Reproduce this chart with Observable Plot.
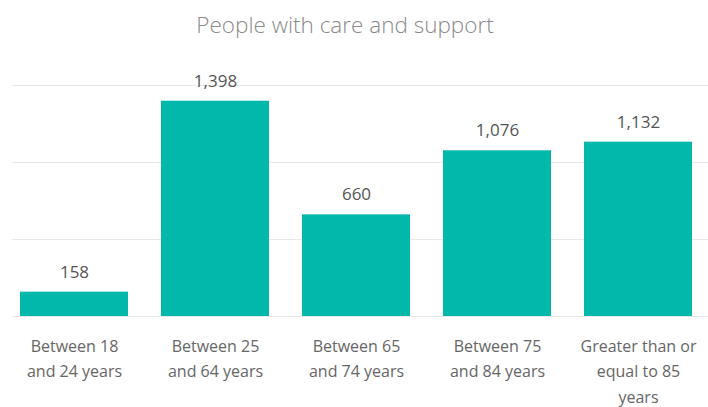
<!DOCTYPE html>
<html>
<head>
<meta charset="utf-8">
<script src="https://cdn.jsdelivr.net/npm/d3@7"></script>
<script src="https://cdn.jsdelivr.net/npm/@observablehq/plot@0.6"></script>
<style>
  html, body { margin: 0; padding: 0; background: #fff; }
  #title { height: 50px; line-height: 50px; text-align: center; font-family: "Segoe UI", "Open Sans", sans-serif; font-size: 22.5px; font-weight: 300; color: #8a8a8a; width: 690px; }
</style>
</head>
<body>
<div id="title">People with care and support</div>
<div id="chart"></div>
<script>
const categories = ["18-24", "25-64", "65-74", "75-84", "85+"];
const tickLabels = ["Between 18\nand 24 years", "Between 25\nand 64 years", "Between 65\nand 74 years", "Between 75\nand 84 years", "Greater than or\nequal to 85\nyears"];
const values = [158, 1398, 660, 1076, 1132];
const gridTicks = [0, 500, 1000, 1500];

const data = categories.map((c, i) => ({cat: c, value: values[i]}));
const labelOf = Object.fromEntries(categories.map((c, i) => [c, tickLabels[i]]));

const chart = Plot.plot({
  width: 708,
  height: 357,
  marginTop: 35,
  marginBottom: 91,
  marginLeft: 12,
  marginRight: 0,
  style: {fontFamily: "'Segoe UI', 'Open Sans', sans-serif", background: "#fff"},
  x: {domain: categories, paddingInner: 0.234, paddingOuter: 0.085, align: 0.333, label: null},
  y: {domain: [0, 1500], axis: null},
  marks: [
    Plot.ruleY(gridTicks, {stroke: "#e8e8e8", strokeWidth: 1}),
    Plot.barY(data, {x: "cat", y: "value", fill: "#01B8AA"}),
    Plot.text(data, {x: "cat", y: "value", text: d => d3.format(",")(d.value), dy: -20, fontSize: 17, fill: "#555"}),
    Plot.axisX({tickSize: 0, tickPadding: 17, tickFormat: d => labelOf[d], fontSize: 16, lineHeight: 1.6, color: "#666", label: null, lineAnchor: "top"})
  ]
});
document.getElementById("chart").appendChild(chart);
</script>
</body>
</html>
